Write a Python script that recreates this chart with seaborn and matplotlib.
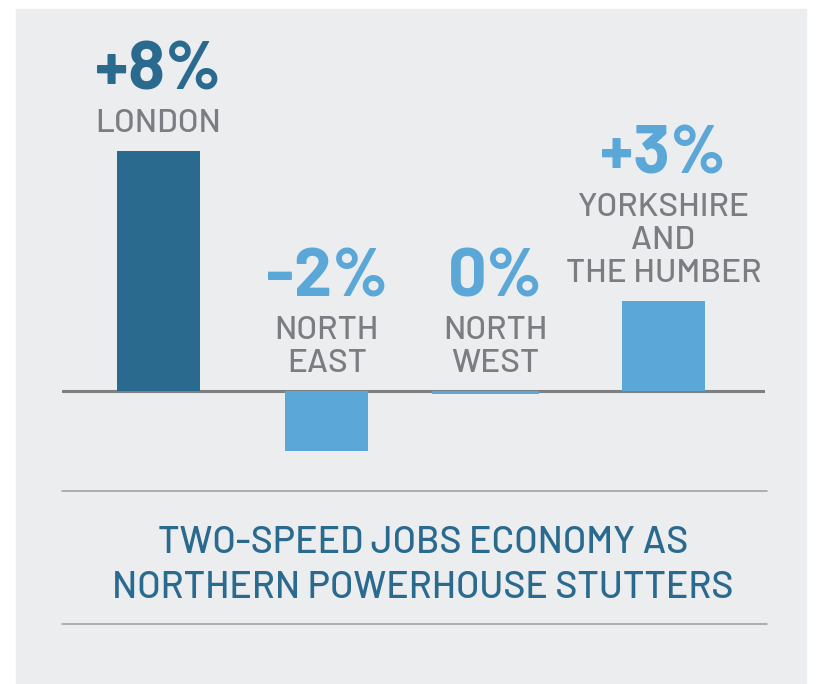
import matplotlib
matplotlib.use("Agg")
import matplotlib.pyplot as plt
import seaborn as sns
from matplotlib.lines import Line2D
from matplotlib.patches import Rectangle

# data
regions = ['London', 'North East', 'North West', 'Yorkshire and the Humber']
changes = [8, -2, -0.1, 3]
pct_labels = ['+8%', '-2%', '0%', '+3%']
region_labels = [['LONDON'], ['NORTH', 'EAST'], ['NORTH', 'WEST'],
                 ['YORKSHIRE', 'AND', 'THE HUMBER']]
title_lines = ['TWO-SPEED JOBS ECONOMY AS', 'NORTHERN POWERHOUSE STUTTERS']

dark_blue = '#2b6a8f'
light_blue = '#5aa7d8'
grey_txt = '#7a7d82'
panel = '#ecedef'
bar_colors = [dark_blue, light_blue, light_blue, light_blue]

sns.set_style('white')
plt.rcParams['font.family'] = ['Barlow', 'DejaVu Sans']

W, H = 819, 684
fig = plt.figure(figsize=(W / 100, H / 100), dpi=100, facecolor='white')
fig.patches.append(Rectangle((16 / W, 0), 790 / W, (H - 9) / H,
                             transform=fig.transFigure, color=panel, zorder=-10))

ax = fig.add_axes([62 / W, (H - 470) / H, 703 / W, 430 / H])
ax.set_zorder(1)
ax.set_facecolor('none')
ax.axhline(0, color='#7d7f83', lw=2.2, zorder=1)
sns.barplot(x=regions, y=changes, hue=regions, palette=bar_colors, width=0.493,
            legend=False, saturation=1, linewidth=0, ax=ax, zorder=2)

# the 0% bar is drawn a bit wider in the original
p = ax.patches[2]
cx = p.get_x() + p.get_width() / 2
p.set_width(0.636)
p.set_x(cx - 0.636 / 2 - 0.06)

ax.set_xlim(-0.573, 3.603)
ax.set_ylim(-2.633, 11.7)
ax.axis('off')

for i, (v, pct, lines) in enumerate(zip(changes, pct_labels, region_labels)):
    base = max(v, 0) + 0.65
    for j, line in enumerate(reversed(lines)):
        ax.text(i, base + j * 1.1, line, ha='center', va='baseline',
                fontsize=24, fontweight='medium', color=grey_txt)
    top = base + (len(lines) - 1) * 1.1
    ax.text(i, top + 1.4, pct, ha='center', va='baseline', fontsize=49,
            fontweight='bold', color=bar_colors[i])

for ypx in (491, 624):
    fig.add_artist(Line2D([62 / W, 767 / W], [(H - ypx) / H] * 2,
                          transform=fig.transFigure, color='#9a9b9e', lw=1.1))

for line, ypx in zip(title_lines, (553, 598)):
    fig.text(423 / W, (H - ypx) / H, line, ha='center', va='baseline',
             fontsize=27, fontweight='medium', color=dark_blue)

fig.savefig('out.png', dpi=100, facecolor='white')
